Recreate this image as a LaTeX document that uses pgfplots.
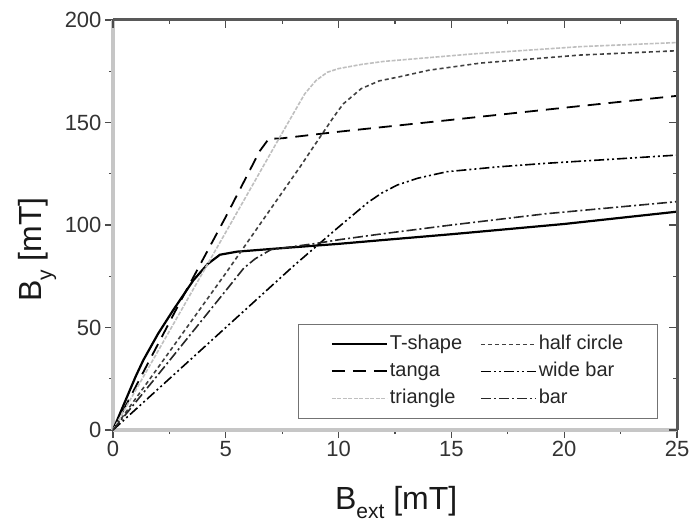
\documentclass[border=0pt]{standalone}
\usepackage{fontspec}
\setmainfont{Liberation Sans}
\usepackage{pgfplots}
\pgfplotsset{compat=1.18}

\pgfplotsset{
  frame/.style={
    width=564pt, height=410pt, scale only axis,
    xmin=0, xmax=25, ymin=0, ymax=200,
    xtick={0,5,...,25}, ytick={0,50,...,200},
    minor x tick num=1, minor y tick num=1,
    major tick length=8pt, minor tick length=4pt,
    tick style={black!70, line width=1.3pt},
    /pgf/number format/assume math mode=true,
    tick label style={font=\fontsize{22}{26}\selectfont, text=black!80},
  },
}

\begin{document}
\begin{tikzpicture}
\begin{axis}[
    frame,
    axis x line*=bottom, axis y line*=left,
    axis line style={gray!45, line width=4.5pt},
    tick align=outside,
    xlabel={B\raisebox{-9pt}{\fontsize{21}{21}\selectfont ext} [mT]},
    ylabel={B\raisebox{-10pt}{\fontsize{21}{21}\selectfont y} [mT]},
    label style={font=\fontsize{32}{38}\selectfont, text=black!90},
    xlabel style={at={(axis description cs:0.502,-0.193)}, anchor=base},
    ylabel style={at={(axis description cs:-0.126,0.44)}, anchor=base},
    legend columns=2,
    legend cell align=left,
    legend image code/.code={\draw[#1] (0pt,0pt) -- (55pt,0pt);},
    legend style={
      at={(axis description cs:0.966,0.027)}, anchor=south east,
      draw=black!55, line width=1.2pt, fill=white,
      font=\fontsize{20}{24}\selectfont,
      inner xsep=32pt, inner ysep=9pt, row sep=5pt,
      nodes={inner sep=2pt, text height=14pt, text depth=4pt, text=black!85},
      /tikz/every even column/.append style={column sep=16pt},
    },
  ]
  % T-shape
  \addplot[black, line width=2.2pt] coordinates {
    (0,0) (1,26) (1.34,34) (2,47) (2.67,58.5) (3.56,73) (4.2,81) (4.74,85.5)
    (5.5,87) (7,88.3) (10,90.8) (12,92.7) (15,95.5) (20,100.5) (25,106.5)};
  \addlegendentry{T-shape}
  % half circle
  \addplot[black!75, line width=1.6pt, dash pattern=on 4pt off 3pt] coordinates {
    (0,0) (2,30.5) (5,76.5) (8.3,128.5) (9,140) (9.8,153) (10.2,159) (11,166.5)
    (11.8,170.3) (12.7,172.3) (14,175.5) (16.3,179) (20.7,182.9) (25,185)};
  \addlegendentry{half circle}
  % tanga
  \addplot[black, line width=1.8pt, dash pattern=on 13pt off 8pt] coordinates {
    (0,0) (1,21) (3,63) (5,104) (6.5,136) (6.9,142) (7.5,142.3) (10,145.5)
    (15,151.3) (20,157.2) (25,163)};
  \addlegendentry{tanga}
  % wide bar
  \addplot[black, line width=1.6pt, dash pattern=on 10pt off 3pt on 2pt off 3pt on 2pt off 3pt] coordinates {
    (0,0) (2,20) (5,50) (8,80) (10,99) (11.3,111) (11.9,115.5) (12.6,119.5)
    (13.5,122.8) (14.8,126) (17,128.3) (19.2,130.1) (22,132) (25,134.1)};
  \addlegendentry{wide bar}
  % triangle
  \addplot[gray!50, line width=1.6pt, dash pattern=on 4pt off 1.5pt] coordinates {
    (0,0) (2,38.6) (5,96.5) (7.4,143) (8.5,164) (9,170.5) (9.5,174.5) (10,176.3)
    (11,178.3) (12,179.8) (16,183.5) (20.7,187) (25,189)};
  \addlegendentry{triangle}
  % bar
  \addplot[black!85, line width=1.6pt, dash pattern=on 10pt off 3pt on 2pt off 3pt] coordinates {
    (0,0) (2,27) (5,68) (5.8,79) (6.3,83.5) (7,88) (8,89.5) (9,91) (10,92.8)
    (11.8,95.5) (15,100) (19.2,105.5) (25,111.4)};
  \addlegendentry{bar}
\end{axis}
\begin{axis}[
    frame,
    axis x line*=top, axis y line*=right,
    axis line style={black!65, line width=3pt},
    tick align=inside,
    xticklabels={}, yticklabels={},
  ]
\end{axis}
\pgfresetboundingbox
\path (current axis.south west) ++(-113pt,-95pt) rectangle ([shift={(16pt,20pt)}]current axis.north east);
\end{tikzpicture}
\end{document}
